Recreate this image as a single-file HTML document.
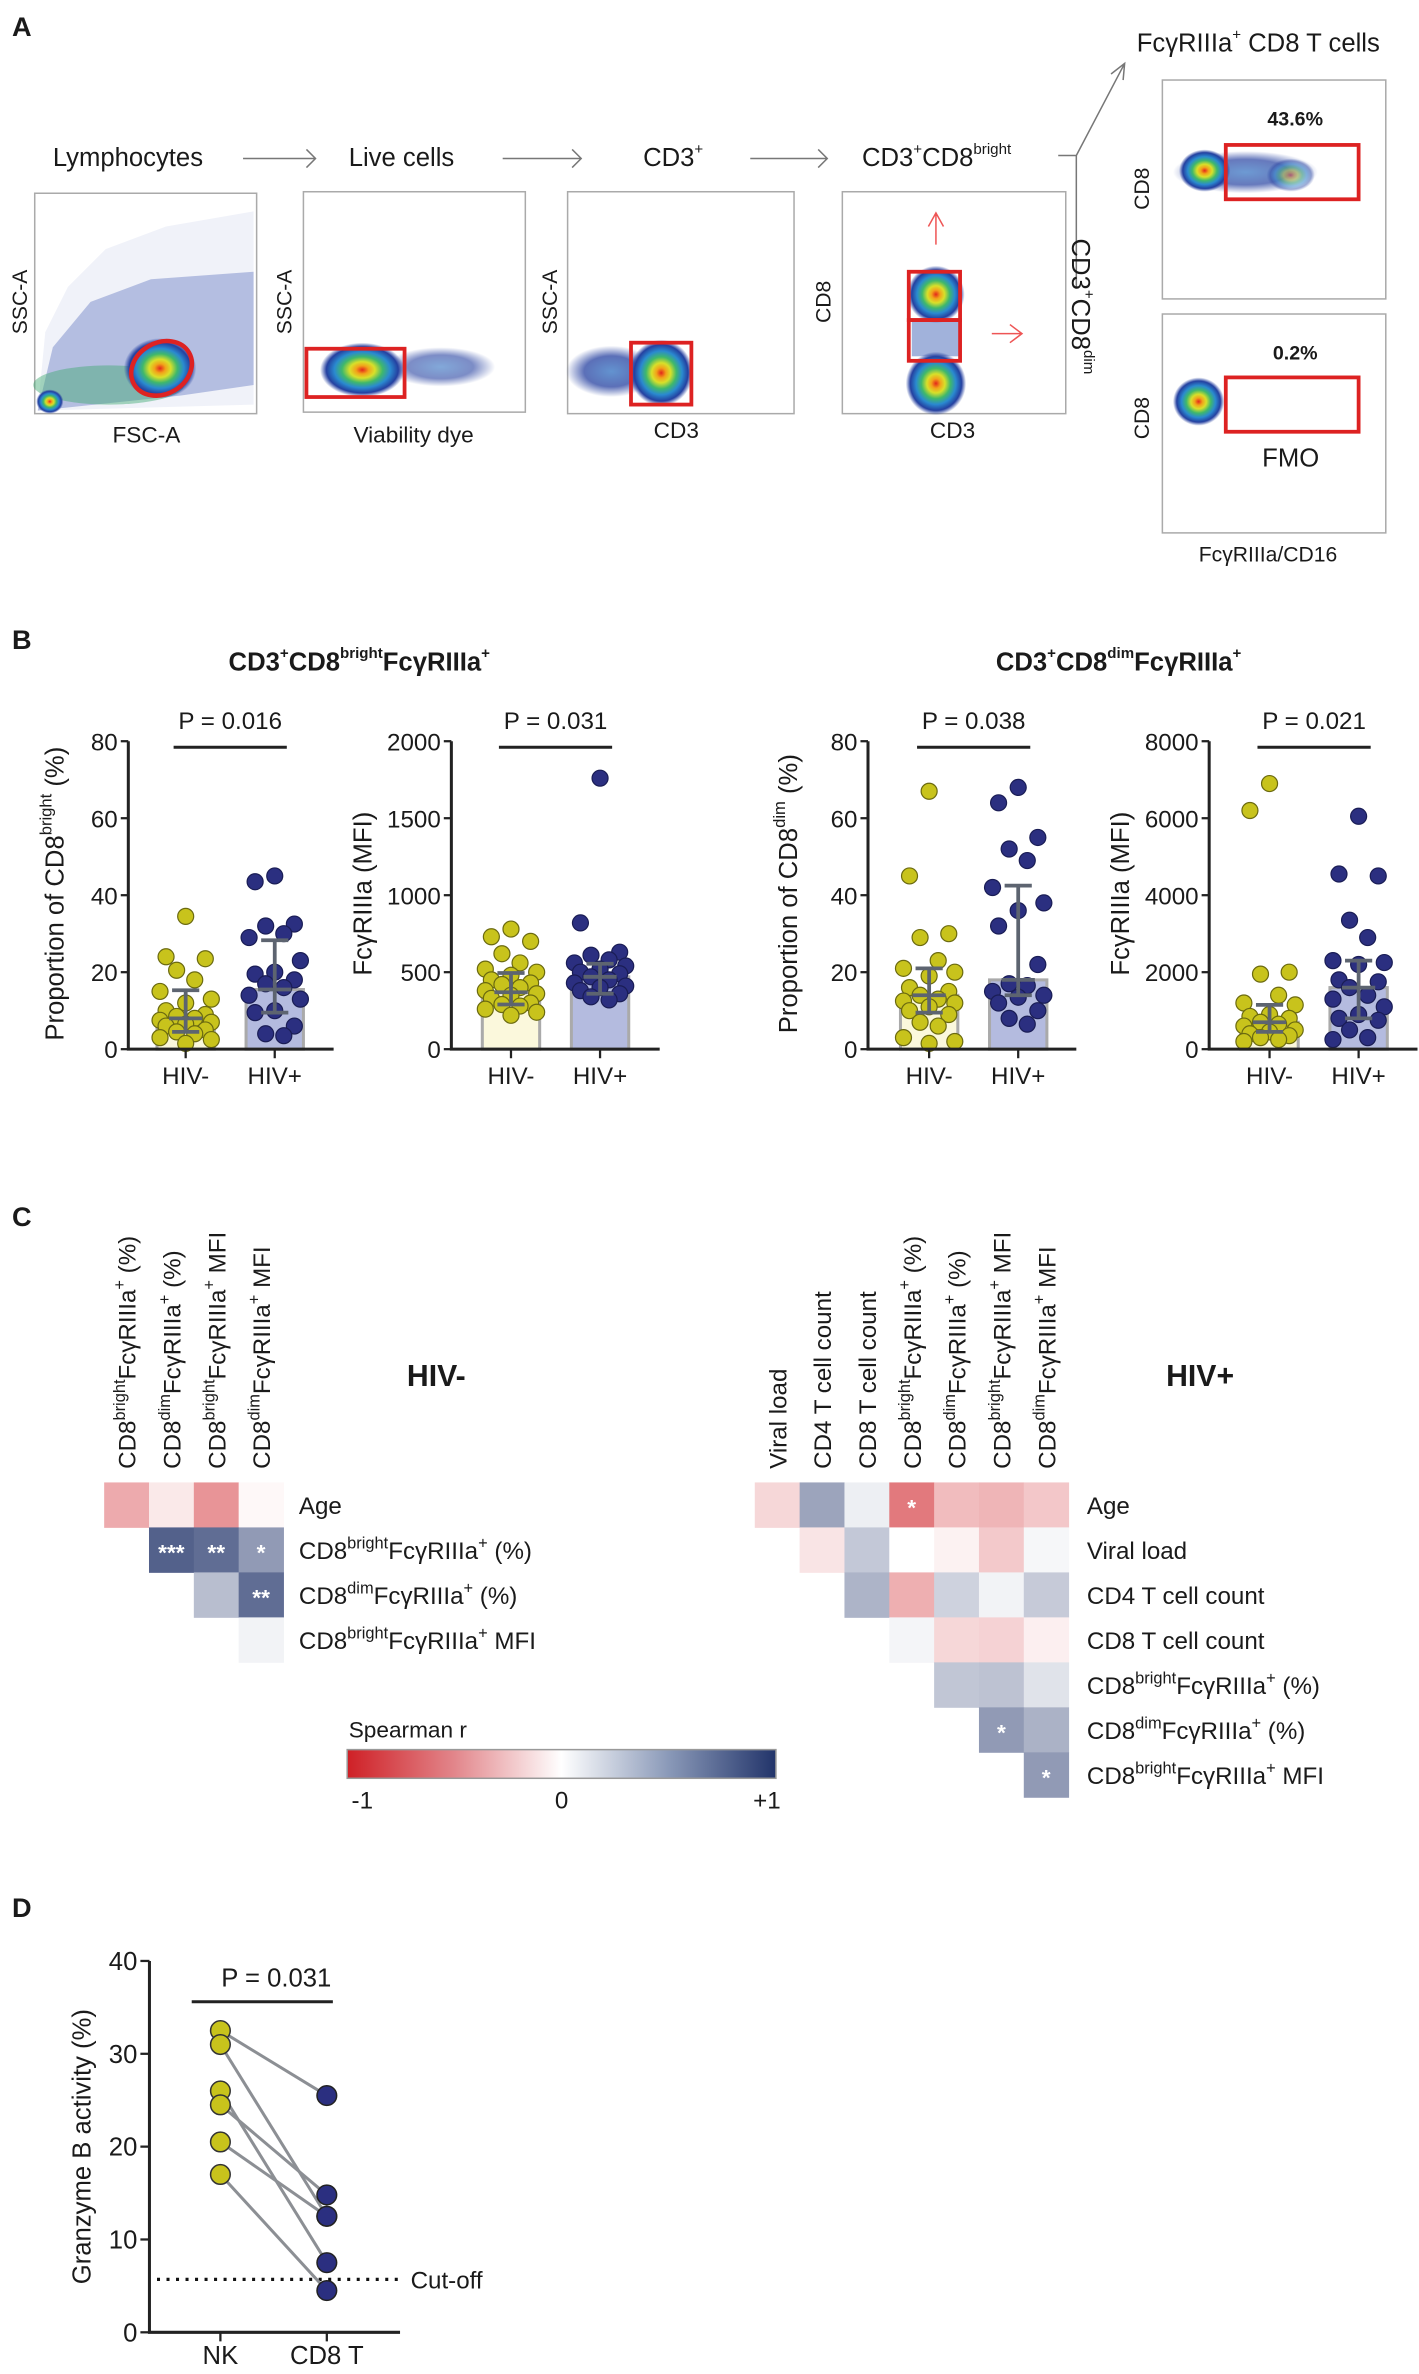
<!DOCTYPE html>
<html><head><meta charset="utf-8">
<style>
html,body{margin:0;padding:0;background:#fff;width:1419px;height:2374px;overflow:hidden}
svg{display:block}
text{font-family:"Liberation Sans",Arial,sans-serif;fill:#1a1a1a}
</style></head>
<body>
<svg id="fig" width="1419" height="2374" viewBox="0 0 940 1572.6" xmlns="http://www.w3.org/2000/svg">
<defs>
<radialGradient id="dens" cx="50%" cy="50%" r="50%">
<stop offset="0" stop-color="#e3261c"/><stop offset="0.15" stop-color="#f2a21a"/><stop offset="0.3" stop-color="#d8e02a"/><stop offset="0.48" stop-color="#3fb86b"/><stop offset="0.66" stop-color="#2a8ad0"/><stop offset="0.85" stop-color="#2440a0"/><stop offset="1" stop-color="#2440a0" stop-opacity="0"/>
</radialGradient>
<radialGradient id="densB" cx="50%" cy="50%" r="50%">
<stop offset="0" stop-color="#2f6fc0"/><stop offset="0.6" stop-color="#2540a0"/><stop offset="1" stop-color="#2540a0" stop-opacity="0"/>
</radialGradient>
<linearGradient id="spear" x1="0" x2="1" y1="0" y2="0">
<stop offset="0" stop-color="#cf2026"/><stop offset="0.25" stop-color="#e2868b"/><stop offset="0.5" stop-color="#ffffff"/><stop offset="0.75" stop-color="#8a99b8"/><stop offset="1" stop-color="#22346a"/>
</linearGradient>
</defs>

<g>
<text x="8" y="24" font-size="18" font-weight="bold">A</text>
<text x="35" y="110" font-size="17">Lymphocytes</text>
<text x="231" y="110" font-size="17">Live cells</text>
<text x="426" y="110" font-size="17">CD3<tspan font-size="10" dy="-8">+</tspan></text>
<text x="571" y="110" font-size="17">CD3<tspan font-size="10" dy="-8">+</tspan><tspan dy="8">CD8</tspan><tspan font-size="10" dy="-8">bright</tspan></text>
<text x="753" y="34" font-size="17">FcγRIIIa<tspan font-size="10" dy="-8">+</tspan><tspan dy="8"> CD8 T cells</tspan></text>
<g stroke="#777" stroke-width="1" fill="none">
<path d="M161 105H209M203 99L209 105L203 111"/>
<path d="M333 105H385M379 99L385 105L379 111"/>
<path d="M497 105H548M542 99L548 105L542 111"/>
<path d="M701 103H713V190M713 103L745 42M736 49L745 42L744 53"/>
</g>
<text transform="translate(710,158) rotate(90)" font-size="17">CD3<tspan font-size="10" dy="-8">+</tspan><tspan dy="8">CD8</tspan><tspan font-size="10" dy="-8">dim</tspan></text>

<g>
<rect x="23" y="128" width="147" height="146" fill="#fff" stroke="#aaa"/>
<path d="M25 272 L30 220 L45 190 L70 165 L110 150 L168 140 L168 268 Z" fill="#3b55b0" opacity="0.08"/>
<path d="M25 272 L35 230 L60 200 L100 185 L168 180 L168 255 L120 262 Z" fill="#2a44a8" opacity="0.3"/>
<ellipse cx="72" cy="255" rx="50" ry="13" fill="#3fa870" opacity="0.45"/>
<ellipse cx="33" cy="266" rx="9" ry="8" fill="url(#dens)"/>
<ellipse cx="106" cy="244" rx="24" ry="20" fill="url(#dens)"/>
<ellipse cx="107" cy="244" rx="21" ry="17" transform="rotate(-30 107 244)" fill="none" stroke="#dd2222" stroke-width="3"/>
<text transform="translate(18,200) rotate(-90)" text-anchor="middle" font-size="14">SSC-A</text>
<text x="97" y="293" text-anchor="middle" font-size="15">FSC-A</text>
</g>
<g>
<rect x="201" y="127" width="147" height="146" fill="#fff" stroke="#aaa"/>
<ellipse cx="292" cy="243" rx="36" ry="13" fill="url(#densB)" opacity="0.6"/>
<ellipse cx="240" cy="245" rx="28" ry="18" fill="url(#dens)"/>
<rect x="203" y="231" width="65" height="32" fill="none" stroke="#dd2222" stroke-width="2.5"/>
<text transform="translate(193,200) rotate(-90)" text-anchor="middle" font-size="14">SSC-A</text>
<text x="274" y="293" text-anchor="middle" font-size="15">Viability dye</text>
</g>
<g>
<rect x="376" y="127" width="150" height="147" fill="#fff" stroke="#aaa"/>
<ellipse cx="405" cy="246" rx="30" ry="17" fill="url(#densB)" opacity="0.75"/>
<ellipse cx="438" cy="247" rx="21" ry="22" fill="url(#dens)"/>
<rect x="418" y="227" width="40" height="41" fill="none" stroke="#dd2222" stroke-width="2.5"/>
<text transform="translate(369,200) rotate(-90)" text-anchor="middle" font-size="14">SSC-A</text>
<text x="448" y="290" text-anchor="middle" font-size="15">CD3</text>
</g>
<g>
<rect x="558" y="127" width="148" height="147" fill="#fff" stroke="#aaa"/>
<ellipse cx="620" cy="195" rx="19" ry="19" fill="url(#dens)"/>
<rect x="604" y="212" width="32" height="24" fill="#2f55b0" opacity="0.45"/>
<ellipse cx="620" cy="254" rx="20" ry="21" fill="url(#dens)"/>
<rect x="602" y="180" width="34" height="32" fill="none" stroke="#dd2222" stroke-width="2.5"/>
<rect x="602" y="212" width="34" height="27" fill="none" stroke="#dd2222" stroke-width="2.5"/>
<g stroke="#ee5555" fill="none" stroke-width="1"><path d="M620 162V141M615 150L620 141L625 150"/><path d="M657 221H677M669 215L677 221L669 227"/></g>
<text transform="translate(550,200) rotate(-90)" text-anchor="middle" font-size="14">CD8</text>
<text x="631" y="290" text-anchor="middle" font-size="15">CD3</text>
</g>
<g>
<rect x="770" y="53" width="148" height="145" fill="#fff" stroke="#aaa"/>
<ellipse cx="825" cy="114" rx="48" ry="14" fill="url(#densB)" opacity="0.7"/>
<ellipse cx="798" cy="113" rx="17" ry="14" fill="url(#dens)"/>
<ellipse cx="855" cy="116" rx="16" ry="11" fill="url(#dens)" opacity="0.45"/>
<rect x="812" y="96" width="88" height="36" fill="none" stroke="#dd2222" stroke-width="2.5"/>
<text x="858" y="83" text-anchor="middle" font-size="13" font-weight="bold">43.6%</text>
<text transform="translate(761,125) rotate(-90)" text-anchor="middle" font-size="14">CD8</text>
</g>
<g>
<rect x="770" y="208" width="148" height="145" fill="#fff" stroke="#aaa"/>
<ellipse cx="794" cy="266" rx="17" ry="16" fill="url(#dens)"/>
<rect x="812" y="250" width="88" height="36" fill="none" stroke="#dd2222" stroke-width="2.5"/>
<text x="858" y="238" text-anchor="middle" font-size="13" font-weight="bold">0.2%</text>
<text x="855" y="309" text-anchor="middle" font-size="17">FMO</text>
<text transform="translate(761,277) rotate(-90)" text-anchor="middle" font-size="14">CD8</text>
<text x="840" y="372" text-anchor="middle" font-size="14">FcγRIIIa/CD16</text>
</g>
</g>

<g>
<text x="8" y="430" font-size="18" font-weight="bold">B</text>
<text x="238" y="444" text-anchor="middle" font-size="17" font-weight="bold">CD3<tspan font-size="10" dy="-8">+</tspan><tspan dy="8">CD8</tspan><tspan font-size="10" dy="-8">bright</tspan><tspan dy="8">FcγRIIIa</tspan><tspan font-size="10" dy="-8">+</tspan></text>
<text x="741" y="444" text-anchor="middle" font-size="17" font-weight="bold">CD3<tspan font-size="10" dy="-8">+</tspan><tspan dy="8">CD8</tspan><tspan font-size="10" dy="-8">dim</tspan><tspan dy="8">FcγRIIIa</tspan><tspan font-size="10" dy="-8">+</tspan></text>
<g id="bcharts"></g>
</g>

<g>
<text x="8" y="812" font-size="18" font-weight="bold">C</text>
<text x="289" y="918" text-anchor="middle" font-size="20" font-weight="bold">HIV-</text>
<text x="795" y="918" text-anchor="middle" font-size="20" font-weight="bold">HIV+</text>
<g id="heat"></g>
<g>
<text x="231" y="1151" font-size="15">Spearman r</text>
<rect x="230" y="1159" width="284" height="19" fill="url(#spear)" stroke="#999"/>
<text x="240" y="1198" text-anchor="middle" font-size="16">-1</text>
<text x="372" y="1198" text-anchor="middle" font-size="16">0</text>
<text x="508" y="1198" text-anchor="middle" font-size="16">+1</text>
</g>
</g>

<g>
<text x="8" y="1270" font-size="18" font-weight="bold">D</text>
<g id="dchart"></g>
</g>
</svg>

<script>
const NS='http://www.w3.org/2000/svg';
function mk(tag,attrs,parent,txt){const e=document.createElementNS(NS,tag);for(const k in attrs)e.setAttribute(k,attrs[k]);if(txt!==undefined)e.textContent=txt;parent.appendChild(e);return e;}

const bCategories=['HIV-','HIV+'];
const b1Neg=[34.5,24,23.5,20.5,18,15,13,12,10,9,8.5,8,7.5,7,6.5,6,5,4.5,4,3,2.5,1.5];
const b1Pos=[45,43.5,32.5,32,30,29,23,20,19.5,18,17,16,14,13,10,9.5,6,4,3.5];
const b1Bars=[8,15.5];
const b1Q1=[4.5,9.5];
const b1Q3=[15.3,28.3];
const b1Ticks=[0,20,40,60,80];
const b2Neg=[780,730,700,620,560,520,500,480,450,430,420,400,380,360,350,330,300,290,280,260,240,220];
const b2Pos=[1760,820,630,610,580,560,540,520,500,490,470,450,430,410,400,380,360,340,320];
const b2Bars=[370,470];
const b2Q1=[290,360];
const b2Q3=[495,555];
const b2Ticks=[0,500,1000,1500,2000];
const b3Neg=[67,45,30,29,23,21,20,19,16,15,14,13,12.5,12,11,10,9,7,6,3,2,1.5];
const b3Pos=[68,64,55,52,49,42,38,36,32,22,17,16.5,15,14,13.5,12,10,8,6.5];
const b3Bars=[14,18];
const b3Q1=[9.5,14];
const b3Q3=[21,42.5];
const b3Ticks=[0,20,40,60,80];
const b4Neg=[6900,6200,2000,1950,1400,1200,1150,900,850,800,700,650,600,500,450,400,350,300,250,200];
const b4Pos=[6050,4550,4500,3350,2900,2300,2250,2200,1800,1750,1600,1400,1300,1100,900,800,750,500,300,250];
const b4Bars=[700,1600];
const b4Q1=[450,800];
const b4Q3=[1150,2300];
const b4Ticks=[0,2000,4000,6000,8000];
const bPvals=['P = 0.016','P = 0.031','P = 0.038','P = 0.021'];

const bLayouts=[
 {ax:85,end:221,c:[123,182],max:80,lab:'bright',labx:42,kind:'prop'},
 {ax:299,end:437,c:[338.5,397.5],max:2000,labx:246,kind:'mfi'},
 {ax:575,end:713,c:[615.5,674.5],max:80,lab:'dim',labx:528,kind:'prop'},
 {ax:801,end:939,c:[841,900],max:8000,labx:748,kind:'mfi'}
];
const bSets=[[b1Neg,b1Pos,b1Bars,b1Q1,b1Q3,b1Ticks],[b2Neg,b2Pos,b2Bars,b2Q1,b2Q3,b2Ticks],[b3Neg,b3Pos,b3Bars,b3Q1,b3Q3,b3Ticks],[b4Neg,b4Pos,b4Bars,b4Q1,b4Q3,b4Ticks]];
const Y0=695, YTOP=491;
const bg=document.getElementById('bcharts');
bLayouts.forEach((L,ci)=>{
  const [neg,pos,bars,q1,q3,ticks]=bSets[ci];
  const y=v=>Y0-(v/L.max)*(Y0-YTOP);
  const g=mk('g',{},bg);
  
  
  bars.forEach((b,i)=>{
    const r=mk('rect',{x:L.c[i]-19,y:y(b),width:38,height:Y0-y(b),fill:i?'#b4bbdf':'#fbf8dc',stroke:'#aaaaaa','stroke-width':2},g);
    
    
  });
  [neg,pos].forEach((arr,gi)=>{
    arr.forEach((v,i)=>{
      const off=[0,-13,13,-6,6,-17,17][i%7];
      const c=mk('circle',{cx:L.c[gi]+off,cy:y(v),r:5.3,fill:gi?'#2b2f80':'#c8c31c',stroke:gi?'#1a1d55':'#6b6a10','stroke-width':0.8},g);
      
      
    });
  });
  bars.forEach((b,i)=>{
    const x=L.c[i];
    mk('path',{d:`M${x} ${y(q1[i])}V${y(q3[i])}M${x-9} ${y(q1[i])}H${x+9}M${x-9} ${y(q3[i])}H${x+9}M${x-11} ${y(b)}H${x+11}`,stroke:'#5d6470','stroke-width':2.5,fill:'none'},g);
  });
  mk('path',{d:`M${L.ax} ${YTOP}V${Y0}H${L.end}`,stroke:'#222','stroke-width':2,fill:'none'},g);
  ticks.forEach(t=>{
    mk('path',{d:`M${L.ax-5} ${y(t)}H${L.ax}`,stroke:'#222','stroke-width':1.5},g);
    mk('text',{x:L.ax-7,y:y(t)+6,'text-anchor':'end','font-size':16},g,t);
  });
  L.c.forEach((cx,i)=>{
    mk('path',{d:`M${cx} ${Y0}V${Y0+6}`,stroke:'#222','stroke-width':1.5},g);
    mk('text',{x:cx,y:718,'text-anchor':'middle','font-size':16},g,bCategories[i]);
  });
  mk('path',{d:`M${L.c[0]-8} 495H${L.c[1]+8}`,stroke:'#222','stroke-width':2},g);
  mk('text',{x:(L.c[0]+L.c[1])/2,y:483,'text-anchor':'middle','font-size':16},g,bPvals[ci]);
  const yl=mk('text',{transform:`translate(${L.labx},592) rotate(-90)`,'text-anchor':'middle','font-size':17},g);
  if(L.kind==='prop'){
    yl.innerHTML='Proportion of CD8<tspan font-size="11" dy="-8">'+L.lab+'</tspan><tspan dy="8"> (%)</tspan>';
  } else yl.textContent='FcγRIIIa (MFI)';
});

const hivNegCols=['CD8|bright|FcγRIIIa|+| (%)','CD8|dim|FcγRIIIa|+| (%)','CD8|bright|FcγRIIIa|+| MFI','CD8|dim|FcγRIIIa|+| MFI'];
const hivNegRows=['Age','CD8|bright|FcγRIIIa|+| (%)','CD8|dim|FcγRIIIa|+| (%)','CD8|bright|FcγRIIIa|+| MFI'];
const hivNegR=[[-0.38,-0.1,-0.48,-0.03],[0.78,0.72,0.5],[0.32,0.72],[0.06]];
const hivNegSig=[['','','',''],['***','**','*'],['','**'],['']];
const hivPosCols=['Viral load','CD4 T cell count','CD8 T cell count','CD8|bright|FcγRIIIa|+| (%)','CD8|dim|FcγRIIIa|+| (%)','CD8|bright|FcγRIIIa|+| MFI','CD8|dim|FcγRIIIa|+| MFI'];
const hivPosRows=['Age','Viral load','CD4 T cell count','CD8 T cell count','CD8|bright|FcγRIIIa|+| (%)','CD8|dim|FcγRIIIa|+| (%)','CD8|bright|FcγRIIIa|+| MFI'];
const hivPosR=[[-0.18,0.45,0.08,-0.6,-0.3,-0.33,-0.25],[-0.12,0.27,0,-0.06,-0.24,0.04],[0.37,-0.36,0.22,0.06,0.26],[0.05,-0.18,-0.2,-0.07],[0.28,0.3,0.14],[0.5,0.38],[0.5]];
const hivPosSig=[['','','','*','','',''],['','','','','',''],['','','','',''],['','','',''],['','',''],['*',''],['*']];

function rcolor(r){
  const lerp=(a,b,t)=>Math.round(a+(b-a)*t);
  let c;
  if(r<0){const t=Math.min(1,-r);c=[lerp(255,207,t),lerp(255,32,t),lerp(255,38,t)];}
  else {const t=Math.min(1,r);c=[lerp(255,34,t),lerp(255,52,t),lerp(255,106,t)];}
  return `rgb(${c[0]},${c[1]},${c[2]})`;
}
function richLabel(parent,attrs,s,fs){
  const t=mk('text',attrs,parent);
  const p=s.split('|');
  if(p.length===1){t.textContent=s;return t;}
  t.innerHTML=`${p[0]}<tspan font-size="${fs*0.68}" dy="-7">${p[1]}</tspan><tspan dy="7">${p[2]}</tspan><tspan font-size="${fs*0.68}" dy="-7">${p[3]}</tspan><tspan dy="7">${p[4]}</tspan>`;
  return t;
}
const heat=document.getElementById('heat');
function drawHeat(name,x0,y0,cols,rows,R,S,labx){
  const cw=29.7,ch=29.8;
  const g=mk('g',{},heat);
  
  
  R.forEach((row,ri)=>{
    row.forEach((v,k)=>{
      const ci=ri+k;
      const c=mk('rect',{x:x0+ci*cw,y:y0+ri*ch,width:cw+0.3,height:ch+0.3,fill:rcolor(v)},g);
      
      
      if(S[ri][k]) mk('text',{x:x0+ci*cw+cw/2,y:y0+ri*ch+ch/2+7,'text-anchor':'middle','font-size':15,'font-weight':'bold',style:'fill:#fff'},g,S[ri][k]);
    });
    richLabel(g,{x:labx,y:y0+ri*ch+ch/2+6,'font-size':16},rows[ri],16);
  });
  cols.forEach((c,ci)=>{
    richLabel(g,{transform:`translate(${x0+ci*cw+cw/2+6},${y0-9}) rotate(-90)`,'font-size':16},c,16);
  });
}
drawHeat('heatmap-hiv-neg',69,982,hivNegCols,hivNegRows,hivNegR,hivNegSig,198);
drawHeat('heatmap-hiv-pos',500,982,hivPosCols,hivPosRows,hivPosR,hivPosSig,720);

const dCategories=['NK','CD8 T'];
const dNK=[32.5,31,26,24.5,20.5,17];
const dCD8=[25.5,12.5,7.5,14.8,12.5,4.5];
const dTicks=[0,10,20,30,40];
const dCutoff=5.7;
const dP='P = 0.031';
(function(){
  const g=document.getElementById('dchart');
  const ax=99,end=265,y0=1545,yt=1299,cx=[146,216.5];
  const y=v=>y0-(v/40)*(y0-yt);
  mk('path',{d:`M${ax+5} ${y(dCutoff)}H${end}`,stroke:'#111','stroke-width':2.2,'stroke-dasharray':'2 4.3',fill:'none'},g);
  mk('text',{x:272,y:y(dCutoff)+6,'font-size':16},g,'Cut-off');
  dNK.forEach((v,i)=>{
    const l=mk('line',{x1:cx[0],y1:y(v),x2:cx[1],y2:y(dCD8[i]),stroke:'#8c8f94','stroke-width':2},g);
    
    
  });
  dNK.forEach(v=>{
    const c=mk('circle',{cx:cx[0],cy:y(v),r:6.5,fill:'#c8c31c',stroke:'#333','stroke-width':1},g);
    
    
  });
  dCD8.forEach(v=>{
    const c=mk('circle',{cx:cx[1],cy:y(v),r:6.5,fill:'#2b2f80',stroke:'#222','stroke-width':1},g);
    
    
  });
  mk('path',{d:`M${ax} ${yt}V${y0}H${end}`,stroke:'#222','stroke-width':2,fill:'none'},g);
  dTicks.forEach(t=>{
    mk('path',{d:`M${ax-6} ${y(t)}H${ax}`,stroke:'#222','stroke-width':1.5},g);
    mk('text',{x:ax-8,y:y(t)+6,'text-anchor':'end','font-size':17},g,t);
  });
  cx.forEach((x,i)=>{
    mk('path',{d:`M${x} ${y0}V${y0+6}`,stroke:'#222','stroke-width':1.5},g);
    mk('text',{x:x,y:1566,'text-anchor':'middle','font-size':17},g,dCategories[i]);
  });
  mk('path',{d:`M${cx[0]-19} 1326H${cx[1]+4}`,stroke:'#222','stroke-width':2},g);
  mk('text',{x:183,y:1316,'text-anchor':'middle','font-size':17},g,dP);
  mk('text',{transform:`translate(60,1422) rotate(-90)`,'text-anchor':'middle','font-size':17},g,'Granzyme B activity (%)');
})();
</script>
</body></html>
